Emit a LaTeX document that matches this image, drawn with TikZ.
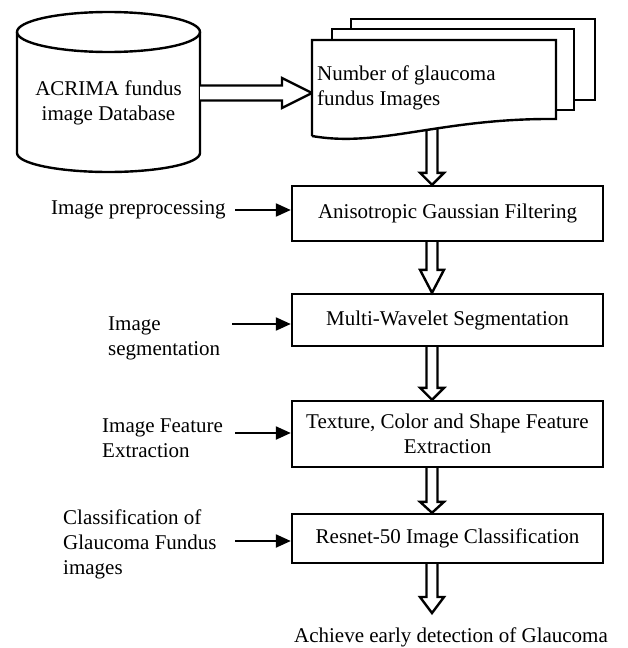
\documentclass[tikz,border=0pt]{standalone}
\usepackage{fontspec}
\setmainfont{Liberation Serif}
\usetikzlibrary{calc,arrows.meta}

% text size used throughout the chart
\newcommand{\chartfont}{\fontsize{21}{25}\selectfont}

% hollow block arrow pointing down: #1 start, #2 tip, #3 head length
\newcommand{\hollowdown}[3]{%
  \draw[outl,fill=white] ($(#1)+(-5.5,0)$) -- ($(#2)+(-5.5,-#3)$) -- ($(#2)+(-12,-#3)$)
    -- (#2) -- ($(#2)+(12,-#3)$) -- ($(#2)+(5.5,-#3)$) -- ($(#1)+(5.5,0)$);}

\begin{document}
\begin{tikzpicture}[x=1pt,y=-1pt,
  outl/.style={line width=2.4pt,line join=miter},
  stagebox/.style={draw,line width=2.4pt,minimum width=311pt,align=center,
    inner sep=0pt,font=\chartfont},
  sidelabel/.style={anchor=west,align=left,inner sep=0pt,font=\chartfont},
  feed/.style={line width=2.2pt,-{Triangle[length=15pt,width=13pt]}}]

\useasboundingbox (0,0) rectangle (628,648);

% database cylinder
\draw[outl] (17,32) -- (17,153) .. controls (17,163.5) and (58,172) .. (108.5,172)
  .. controls (159,172) and (200,163.5) .. (200,153) -- (200,32);
\draw[outl] (108.5,32) ellipse [x radius=91.5, y radius=20];
\node[align=center,inner sep=0pt,font=\chartfont] (db) at (108.5,102.5)
  {ACRIMA fundus\\image Database};
\coordinate (dbE) at (200,93);
\coordinate (docW) at (312,93);

% wide arrow from the database to the image stack
\draw[outl,fill=white] ($(dbE)+(0,-7.5)$) -- ($(docW)+(-30,-7.5)$) -- ($(docW)+(-30,-15)$)
  -- (docW) -- ($(docW)+(-30,15)$) -- ($(docW)+(-30,7.5)$) -- ($(dbE)+(0,7.5)$);

% column of the block arrows
\coordinate (ax) at (432,0);

% processing stages
\node[stagebox,minimum height=55pt] (b1) at (447.5,213.5) {Anisotropic Gaussian Filtering};
\node[stagebox,minimum height=52pt] (b2) at (447.5,320) {Multi-Wavelet Segmentation};
\node[stagebox,minimum height=66pt] (b3) at (447.5,434) {Texture, Color and Shape Feature\\Extraction};
\node[stagebox,minimum height=49pt] (b4) at (447.5,538.5) {Resnet-50 Image Classification};

% block arrow leaving the image stack (its top is hidden by the front sheet)
\coordinate (docB) at (432,120);
\hollowdown{docB}{b1.north -| ax}{12}

% stack of images
\draw[outl,fill=white] (351,19) rectangle (595,100);
\draw[outl,fill=white] (332,29) rectangle (574,110);
\draw[outl,fill=white] (312,136) -- (312,40) -- (556,40) -- (556,119)
  .. controls (440,118) and (380,148) .. (312,136);
\node[anchor=west,align=left,inner sep=0pt,font=\chartfont] (doc) at (317,87.5)
  {Number of glaucoma\\fundus Images};

% block arrows between stages
\coordinate (b1s) at (b1.south -| ax);
\coordinate (b2s) at (b2.south -| ax);
\coordinate (b3s) at (b3.south -| ax);
\coordinate (b4s) at (b4.south -| ax);
\hollowdown{b1s}{b2.north -| ax}{23}
\hollowdown{b2s}{b3.north -| ax}{12}
\hollowdown{b3s}{b4.north -| ax}{11}
\node[inner sep=0pt,font=\chartfont] (res) at (451,637) {Achieve early detection of Glaucoma};
\coordinate (resT) at (432,613);
\hollowdown{b4s}{resT}{16}

% stage labels on the left
\node[sidelabel] (l1) at (51,210) {Image preprocessing};
\node[sidelabel] (l2) at (108,338) {Image\\segmentation};
\node[sidelabel] (l3) at (102,438) {Image Feature\\Extraction};
\node[sidelabel] (l4) at (63,544) {Classification of\\Glaucoma Fundus\\images};

\coordinate (s1) at (235,210);
\coordinate (s2) at (232,324);
\coordinate (s3) at (235,433);
\coordinate (s4) at (235,541);
\draw[feed] (s1) -- (s1 -| b1.west);
\draw[feed] (s2) -- (s2 -| b2.west);
\draw[feed] (s3) -- (s3 -| b3.west);
\draw[feed] (s4) -- (s4 -| b4.west);

\end{tikzpicture}
\end{document}
